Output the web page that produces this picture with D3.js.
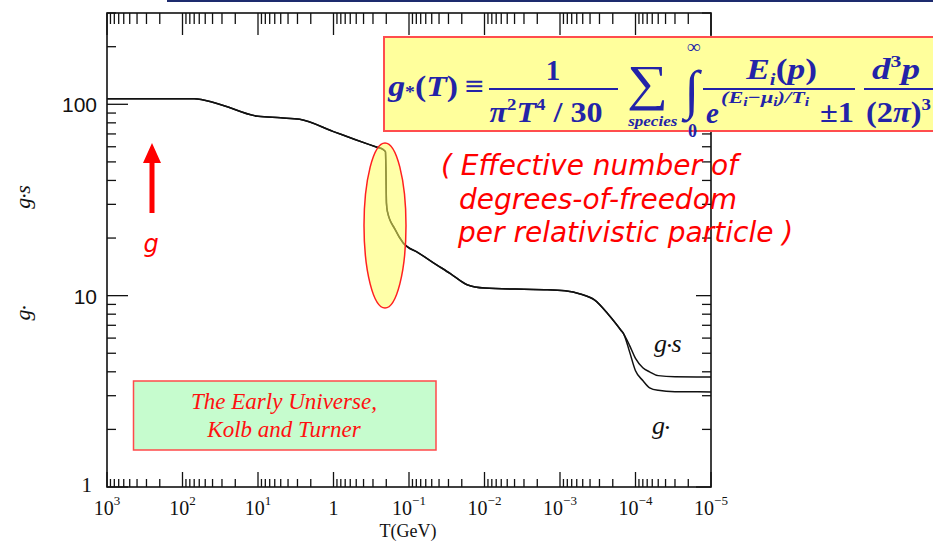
<!DOCTYPE html>
<html>
<head>
<meta charset="utf-8">
<script src="https://cdn.jsdelivr.net/npm/d3@7"></script>
<style>
  html, body { margin: 0; padding: 0; background: #fff; overflow: hidden; }
  svg { display: block; }
</style>
</head>
<body>
<svg id="chart" width="933" height="542"></svg>
<script>
// Temperature samples (GeV), falling from left to right
const tempGeV = [1000, 300, 70, 35, 10, 5, 2.8, 1, 0.52, 0.265, 0.221, 0.205, 0.202, 0.199, 0.193,
  0.153, 0.12, 0.076, 0.048, 0.028, 0.017, 0.01, 0.003, 0.0015, 8.6e-4, 5.4e-4, 3.5e-4, 2.3e-4,
  1.56e-4, 1.43e-4, 1.2e-4, 1.0e-4, 8e-5, 6.5e-5, 5e-5, 3e-5, 1e-5];
// g* : energy-density degrees of freedom
const gStar = [106.75, 107, 107, 101, 86.5, 85, 83.5, 72, 65.5, 59.6, 58.1, 56.5, 45, 30.5, 27.5,
  22.2, 18.9, 16.8, 14.9, 13.0, 11.4, 10.95, 10.8, 10.75, 10.6, 10.2, 9.5, 8.0,
  6.6, 6.3, 5.1, 4.05, 3.6, 3.3, 3.2, 3.15, 3.14];
// g*s : entropy degrees of freedom
const gStarS = [106.75, 107, 107, 101, 86.5, 85, 83.5, 72, 65.5, 59.6, 58.1, 56.5, 45, 30.5, 27.5,
  22.2, 18.9, 16.8, 14.9, 13.0, 11.4, 10.95, 10.8, 10.75, 10.6, 10.2, 9.5, 8.0,
  6.6, 6.3, 5.5, 4.7, 4.2, 4.0, 3.82, 3.77, 3.76];

// Axis labels
const xDecades = [1e3, 1e2, 1e1, 1, 1e-1, 1e-2, 1e-3, 1e-4, 1e-5];
const xDecadeExp = ["3", "2", "1", "", "\u22121", "\u22122", "\u22123", "\u22124", "\u22125"];
const yLabelValues = [1, 10, 100];
const yLabels = ["1", "10", "100"];

const svg = d3.select("#chart");
const x = d3.scaleLog().domain([1e3, 1e-5]).range([107, 711]);
const y = d3.scaleLog().domain([1, 300]).range([487, 13]);
const [x0, x1] = x.range();
const [y0, y1] = y.range();

// top navy rule
svg.append("rect").attr("x", 167).attr("y", 0).attr("width", 766).attr("height", 2).attr("fill", "#1d2b6e");

// frame
svg.append("rect").attr("x", x0).attr("y", y1).attr("width", x1 - x0).attr("height", y0 - y1)
  .attr("fill", "none").attr("stroke", "#111").attr("stroke-width", 1.6);

const isMajor = v => Math.abs(Math.log10(v) - Math.round(Math.log10(v))) < 1e-9;
const ticks = svg.append("g").attr("stroke", "#111").attr("stroke-width", 1.3);
x.ticks().forEach(v => {
  const px = x(v), m = isMajor(v);
  ticks.append("line").attr("x1", px).attr("x2", px).attr("y1", y0).attr("y2", y0 - (m ? 15 : 8));
  ticks.append("line").attr("x1", px).attr("x2", px).attr("y1", y1).attr("y2", y1 + (m ? 22 : 11));
});
y.ticks().forEach(v => {
  const py = y(v), m = isMajor(v);
  ticks.append("line").attr("x1", x0).attr("x2", x0 + (m ? 21 : 9)).attr("y1", py).attr("y2", py);
  ticks.append("line").attr("x1", x1).attr("x2", x1 - (m ? 15 : 9)).attr("y1", py).attr("y2", py);
});

// x tick labels
const xl = svg.append("g").attr("font-family", "Liberation Serif, serif").attr("fill", "#111").attr("font-size", 20);
xDecades.forEach((v, i) => {
  const t = xl.append("text").attr("x", x(v)).attr("y", 515).attr("text-anchor", "middle");
  if (xDecadeExp[i] === "") { t.text("1"); return; }
  t.append("tspan").text("10");
  t.append("tspan").attr("font-size", 13).attr("dy", -10).text(xDecadeExp[i]);
});
xl.append("text").attr("x", 408).attr("y", 537).attr("text-anchor", "middle").attr("font-size", 18).text("T(GeV)");

// y tick labels
const yl = svg.append("g").attr("font-family", "Liberation Sans, sans-serif").attr("fill", "#111").attr("font-size", 21);
yLabelValues.forEach((v, i) => {
  yl.append("text").attr("x", v === 1 ? 92 : 97).attr("y", y(v) + (v === 1 ? 5 : 8))
    .attr("text-anchor", "end")
    .attr("font-family", v === 1 ? "Liberation Serif, serif" : null)
    .text(yLabels[i]);
});

// g-star label: g, small bullet, optional s
function gLabel(sel, withS, size) {
  sel.append("tspan").text("g");
  sel.append("tspan").attr("font-size", size * 0.5).attr("dy", -2).text("\u2022");
  if (withS) sel.append("tspan").attr("dy", 2).text("s");
}
const ttl = svg.append("g").attr("font-family", "Liberation Serif, serif").attr("font-style", "italic").attr("fill", "#111").attr("font-size", 22);
gLabel(ttl.append("text").attr("transform", "translate(30,197) rotate(-90)").attr("text-anchor", "middle"), true, 22);
gLabel(ttl.append("text").attr("transform", "translate(30,313) rotate(-90)").attr("text-anchor", "middle"), false, 22);

// curves
const line = d3.line().x(d => x(d[0])).y(d => y(d[1])).curve(d3.curveMonotoneX);
const curves = svg.append("g").attr("fill", "none").attr("stroke", "#111").attr("stroke-linejoin", "round");
curves.append("path").attr("d", line(d3.zip(tempGeV, gStarS))).attr("stroke-width", 1.5);
curves.append("path").attr("d", line(d3.zip(tempGeV, gStar))).attr("stroke-width", 1.5);

// curve labels
const cl = svg.append("g").attr("font-family", "Liberation Serif, serif").attr("font-style", "italic").attr("fill", "#111").attr("font-size", 26);
gLabel(cl.append("text").attr("x", 654).attr("y", 352), true, 26);
gLabel(cl.append("text").attr("x", 652).attr("y", 434), false, 26);

// QCD transition highlight
svg.append("ellipse").attr("cx", 385).attr("cy", 225.5).attr("rx", 21).attr("ry", 82.5)
  .attr("fill", "#ffff60").attr("fill-opacity", 0.55).attr("stroke", "#ff2020").attr("stroke-width", 1.5);

// red arrow with label
svg.append("path").attr("d", "M152,143 L161,163 L154.5,163 L154.5,213 L149.5,213 L149.5,163 L143,163 Z").attr("fill", "#ff0000");
svg.append("text").attr("x", 151).attr("y", 252).attr("text-anchor", "middle")
  .attr("font-family", "DejaVu Sans, sans-serif").attr("font-style", "italic").attr("font-size", 24)
  .attr("fill", "#ff0000").text("g");

// annotation text
const ann = svg.append("g").attr("font-family", "DejaVu Sans, sans-serif").attr("font-style", "italic")
  .attr("font-size", 28).attr("fill", "#ff0000");
ann.append("text").attr("x", 441).attr("y", 175).text("( Effective number of");
ann.append("text").attr("x", 459).attr("y", 209).text("degrees-of-freedom");
ann.append("text").attr("x", 458).attr("y", 242).text("per relativistic particle )");

// reference box
svg.append("rect").attr("x", 133.5).attr("y", 381).attr("width", 302.5).attr("height", 69)
  .attr("fill", "#c6fcce").attr("stroke", "#ff4a4a").attr("stroke-width", 1.5);
const ref = svg.append("g").attr("font-family", "Liberation Serif, serif").attr("font-style", "italic")
  .attr("font-size", 23).attr("fill", "#ff1010").attr("text-anchor", "middle");
ref.append("text").attr("x", 284).attr("y", 409).text("The Early Universe,");
ref.append("text").attr("x", 284).attr("y", 437).text("Kolb and Turner");

// definition formula
svg.append("rect").attr("x", 384).attr("y", 37).attr("width", 580).attr("height", 94)
  .attr("fill", "#ffff9c").attr("stroke", "#ff4d4d").attr("stroke-width", 2);
const INK = "#2323a8";
const F = svg.append("g").attr("fill", INK).attr("font-family", "Liberation Serif, serif").attr("font-weight", "bold");
const FS = 29, SS = 17;
const bar = (xa, xb) => F.append("line").attr("x1", xa).attr("x2", xb).attr("y1", 89).attr("y2", 89)
  .attr("stroke", INK).attr("stroke-width", 2);
// place a text run so it spans [xa, xb] horizontally
function span(sel, xa, xb) {
  const bb = sel.node().getBBox();
  sel.attr("transform", `translate(${xa},0) scale(${(xb - xa) / bb.width},1) translate(${-bb.x},0)`);
}
const NUM = 79.5, DEN = 122.5;

let t = F.append("text").attr("y", 96).attr("font-size", FS);
t.append("tspan").attr("font-style", "italic").text("g");
t.append("tspan").attr("font-size", SS).attr("dy", 1).text("*");
t.append("tspan").attr("dy", -1).text("(");
t.append("tspan").attr("font-style", "italic").text("T");
t.append("tspan").text(")\u2009\u2261");
span(t, 387, 484);

F.append("text").attr("x", 553).attr("y", NUM).attr("font-size", FS).attr("text-anchor", "middle").text("1");
bar(489, 618);
t = F.append("text").attr("y", DEN).attr("font-size", FS);
t.append("tspan").attr("font-style", "italic").text("\u03c0");
t.append("tspan").attr("font-size", SS).attr("dy", -12).text("2");
t.append("tspan").attr("font-style", "italic").attr("dy", 12).text("T");
t.append("tspan").attr("font-size", SS).attr("dy", -12).text("4");
t.append("tspan").attr("dy", 12).text(" / 30");
span(t, 489.5, 602.6);

t = F.append("text").attr("y", 100).attr("font-size", 50).attr("font-weight", "normal").text("\u2211");
span(t, 627, 668);
t = F.append("text").attr("y", 126).attr("font-size", 14).attr("font-style", "italic").text("species");
span(t, 627, 678);
F.append("text").attr("x", 692).attr("y", 108).attr("font-size", 54).attr("font-weight", "normal")
  .attr("text-anchor", "middle").text("\u222b");
F.append("text").attr("x", 694).attr("y", 53).attr("font-size", 19).attr("text-anchor", "middle").text("\u221e");
F.append("text").attr("x", 692.5).attr("y", 137).attr("font-size", 18).attr("text-anchor", "middle").text("0");

t = F.append("text").attr("y", NUM).attr("font-size", FS);
t.append("tspan").attr("font-style", "italic").text("E");
t.append("tspan").attr("font-size", SS).attr("font-style", "italic").attr("dy", 6).text("i");
t.append("tspan").attr("dy", -6).text("(");
t.append("tspan").attr("font-style", "italic").text("p");
t.append("tspan").text(")");
span(t, 745, 817);
bar(703, 855);
F.append("text").attr("x", 706).attr("y", DEN).attr("font-size", FS).attr("font-style", "italic").text("e");
t = F.append("text").attr("y", 103).attr("font-size", SS).attr("font-style", "italic");
t.append("tspan").text("(E");
t.append("tspan").attr("font-size", 12).attr("dy", 3).text("i");
t.append("tspan").attr("dy", -3).text("\u2212\u03bc");
t.append("tspan").attr("font-size", 12).attr("dy", 3).text("i");
t.append("tspan").attr("dy", -3).text(")/T");
t.append("tspan").attr("font-size", 12).attr("dy", 3).text("i");
span(t, 721, 810);
t = F.append("text").attr("y", DEN).attr("font-size", FS).text("\u00b11");
span(t, 820, 854);

t = F.append("text").attr("y", NUM).attr("font-size", FS);
t.append("tspan").attr("font-style", "italic").text("d");
t.append("tspan").attr("font-size", SS).attr("dy", -12).text("3");
t.append("tspan").attr("font-style", "italic").attr("dy", 12).text("p");
span(t, 872, 920);
bar(864, 940);
t = F.append("text").attr("y", DEN).attr("font-size", FS);
t.append("tspan").text("(2");
t.append("tspan").attr("font-style", "italic").text("\u03c0");
t.append("tspan").text(")");
t.append("tspan").attr("font-size", SS).attr("dy", -12).text("3");
span(t, 866, 931);
</script>
</body>
</html>
